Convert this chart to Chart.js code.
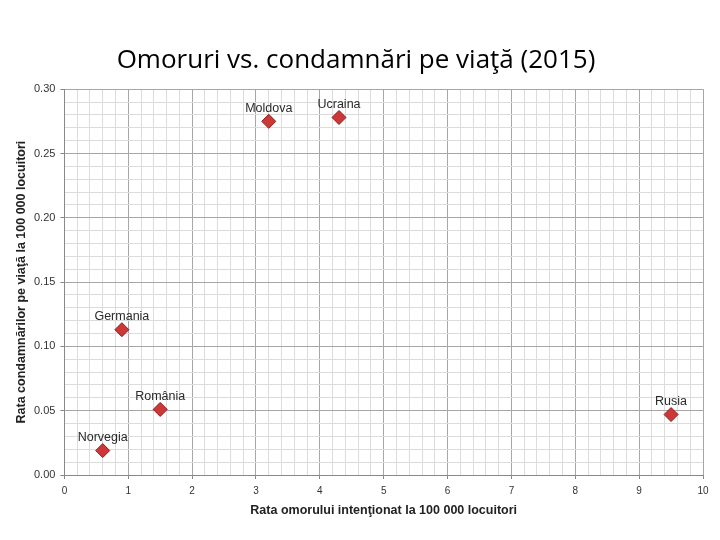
<!DOCTYPE html>
<html>
<head>
<meta charset="utf-8">
<script src="https://cdn.jsdelivr.net/npm/chart.js@4"></script>
<style>
  body { margin: 0; background: #fff; }
  #wrap { width: 720px; height: 540px; }
</style>
</head>
<body>
<div id="wrap"><canvas id="myChart" width="720" height="540"></canvas></div>
<script>
// data
const countries = ["Norvegia", "Germania", "România", "Moldova", "Ucraina", "Rusia"];
const murderRate = [0.6, 0.9, 1.5, 3.2, 4.3, 9.5];
const lifeRate = [0.019, 0.113, 0.051, 0.275, 0.278, 0.047];

const points = countries.map((c, i) => ({ x: murderRate[i], y: lifeRate[i] }));

// names above each marker
const pointLabels = {
  id: "pointLabels",
  afterDatasetsDraw(chart) {
    const ctx = chart.ctx;
    const meta = chart.getDatasetMeta(0);
    ctx.save();
    ctx.font = "12.5px 'Liberation Sans', sans-serif";
    ctx.fillStyle = "#2a2a2a";
    ctx.textAlign = "center";
    ctx.textBaseline = "bottom";
    meta.data.forEach((pt, i) => {
      ctx.fillText(countries[i], pt.x, pt.y - 7);
    });
    ctx.restore();
  }
};

const majorX = v => Math.abs(v - Math.round(v)) < 1e-6;
const majorY = v => Math.round(v * 100) % 5 === 0;

new Chart(document.getElementById("myChart").getContext("2d"), {
  type: "scatter",
  data: {
    datasets: [{
      data: points,
      pointStyle: "rectRot",
      pointRadius: 7,
      pointHoverRadius: 7,
      backgroundColor: "#cc3838",
      borderColor: "#8e1c1c",
      borderWidth: 1
    }]
  },
  options: {
    responsive: false,
    animation: false,
    layout: { padding: { left: 9, right: 17, top: 0, bottom: 18 } },
    plugins: {
      legend: { display: false },
      tooltip: { enabled: false },
      title: {
        display: true,
        text: "Omoruri vs. condamnări pe viaţă (2015)",
        color: "#000",
        font: { family: "'Open Sans', sans-serif", size: 26, weight: "normal" },
        padding: { top: 45, bottom: 13 }
      }
    },
    scales: {
      x: {
        type: "linear",
        min: 0,
        max: 10,
        ticks: {
          stepSize: 0.2,
          autoSkip: false,
          maxRotation: 0,
          padding: 6,
          color: "#333",
          font: { family: "'Liberation Sans', sans-serif", size: 10 },
          callback: v => majorX(v) ? String(Math.round(v)) : ""
        },
        grid: {
          color: c => majorX(c.tick.value) ? "#a6a6a6" : "#dcdcdc",
          tickLength: 4,
          tickColor: c => majorX(c.tick.value) ? "#888" : "rgba(0,0,0,0)"
        },
        border: { color: "#888" },
        title: {
          display: true,
          text: "Rata omorului intenţionat la 100 000 locuitori",
          color: "#222",
          font: { family: "'Liberation Sans', sans-serif", size: 12.5, weight: "bold" },
          padding: { top: 0 }
        }
      },
      y: {
        type: "linear",
        min: 0,
        max: 0.30,
        ticks: {
          stepSize: 0.01,
          autoSkip: false,
          padding: 5,
          color: "#333",
          font: { family: "'Liberation Sans', sans-serif", size: 11 },
          callback: v => majorY(v) ? v.toFixed(2) : ""
        },
        grid: {
          color: c => majorY(c.tick.value) ? "#a6a6a6" : "#dcdcdc",
          tickLength: 4,
          tickColor: c => majorY(c.tick.value) ? "#888" : "rgba(0,0,0,0)"
        },
        border: { color: "#888" },
        title: {
          display: true,
          text: "Rata condamnărilor pe viaţă la 100 000 locuitori",
          color: "#222",
          font: { family: "'Liberation Sans', sans-serif", size: 12.5, weight: "bold" },
          padding: { top: 5, bottom: 0 }
        }
      }
    }
  },
  plugins: [pointLabels]
});
</script>
</body>
</html>
